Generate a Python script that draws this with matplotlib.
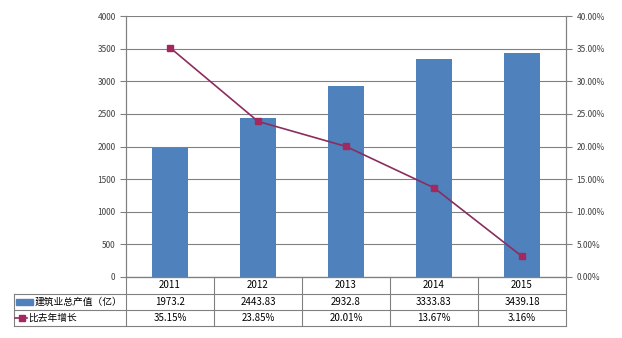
import matplotlib.pyplot as plt
from matplotlib.patches import Rectangle
from matplotlib.lines import Line2D

plt.rcParams['font.family'] = ['Noto Sans CJK SC', 'DejaVu Sans']

years = ['2011', '2012', '2013', '2014', '2015']
output = [1973.2, 2443.83, 2932.8, 3333.83, 3439.18]
growth = [35.15, 23.85, 20.01, 13.67, 3.16]
output_labels = ['1973.2', '2443.83', '2932.8', '3333.83', '3439.18']
growth_labels = ['35.15%', '23.85%', '20.01%', '13.67%', '3.16%']
series_names = ['建筑业总产值（亿）', '比去年增长']

bar_color = '#4F81BD'
line_color = '#8B2D5E'
marker_color = '#A3285E'
grid_color = '#808080'
text_color = '#404040'

W, H = 622, 338
fig = plt.figure(figsize=(W / 100, H / 100), dpi=100)
fig.patch.set_facecolor('white')

x0, x1, y_top, y_bot = 126, 566, 16, 277
ax = fig.add_axes([x0 / W, 1 - y_bot / H, (x1 - x0) / W, (y_bot - y_top) / H])
ax2 = ax.twinx()

xs = list(range(len(years)))
ax.bar(xs, output, width=0.41, color=bar_color, zorder=2)
ax.set_xlim(-0.5, len(years) - 0.5)
ax.set_ylim(0, 4000)
ax.set_yticks(range(0, 4001, 500))
ax.yaxis.grid(True, color=grid_color, linewidth=0.8, zorder=0)
ax.set_axisbelow(True)
ax.set_xticks([])

ax2.plot(xs, growth, color=line_color, linewidth=1.2, marker='s', markersize=5,
         markerfacecolor=marker_color, markeredgecolor=marker_color, zorder=3)
ax2.set_ylim(0, 40)
ax2.set_yticks(range(0, 41, 5))
ax2.set_yticklabels([f'{v:.2f}%' for v in range(0, 41, 5)])

for a in (ax, ax2):
    a.spines['top'].set_visible(False)
    for s in ('left', 'right', 'bottom'):
        a.spines[s].set_color(grid_color)
    a.tick_params(axis='y', labelsize=6, colors=grid_color, labelcolor=text_color,
                  length=4, width=0.8, direction='out')

# data table under the plot, laid out in pixel units
def fx(px):
    return px / W

def fy(py):
    return 1 - py / H

rows_y = [277, 294, 310, 326]
cat_w = (x1 - x0) / len(years)
bounds = [x0 + i * cat_w for i in range(len(years) + 1)]
tl_left = 14

lw = 0.8
for i, yy in enumerate(rows_y):
    left = x0 if i == 0 else tl_left
    fig.add_artist(Line2D([fx(left), fx(x1)], [fy(yy), fy(yy)], color=grid_color, lw=lw))
for bx in bounds:
    fig.add_artist(Line2D([fx(bx), fx(bx)], [fy(rows_y[0]), fy(rows_y[-1])],
                          color=grid_color, lw=lw))
fig.add_artist(Line2D([fx(tl_left), fx(tl_left)], [fy(rows_y[1]), fy(rows_y[-1])],
                      color=grid_color, lw=lw))

r0 = (rows_y[0] + rows_y[1]) / 2
r1 = (rows_y[1] + rows_y[2]) / 2
r2 = (rows_y[2] + rows_y[3]) / 2
for i, yr in enumerate(years):
    cx = (bounds[i] + bounds[i + 1]) / 2
    fig.text(fx(cx), fy(r0), yr, ha='center', va='center', fontsize=7, color='black')
    fig.text(fx(cx), fy(r1), output_labels[i], ha='center', va='center', fontsize=7,
             color='black')
    fig.text(fx(cx), fy(r2), growth_labels[i], ha='center', va='center', fontsize=7,
             color='black')

# legend keys in the first column of the table
fig.add_artist(Rectangle((fx(16), fy(r1 + 3)), 17 / W, 6 / H, color=bar_color))
fig.add_artist(Line2D([fx(15), fx(27)], [fy(r2), fy(r2)], color=line_color, lw=1.2))
fig.add_artist(Line2D([fx(21.5)], [fy(r2)], color=line_color, marker='s', markersize=5,
                      markerfacecolor=marker_color, markeredgecolor=marker_color, lw=0))
fig.text(fx(35), fy(r1), series_names[0], ha='left', va='center', fontsize=7,
         color='black')
fig.text(fx(28), fy(r2), series_names[1], ha='left', va='center', fontsize=7,
         color='black')

fig.savefig('out.png', dpi=100, facecolor='white')
